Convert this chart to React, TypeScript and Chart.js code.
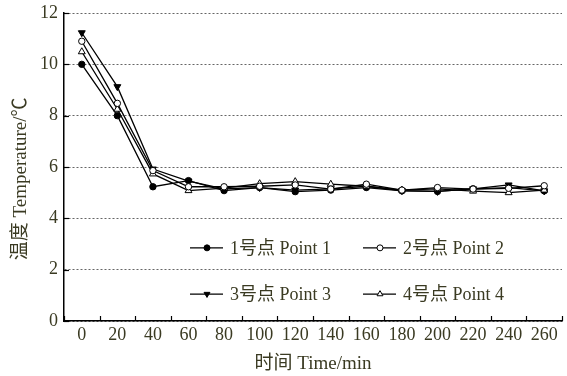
import React, { useEffect, useRef } from "react";
import { Chart, registerables } from "chart.js";

Chart.register(...registerables);

const categories = ["0", "20", "40", "60", "80", "100", "120", "140", "160", "180", "200", "220", "240", "260"];
const point1 = [10.0, 8.0, 5.23, 5.47, 5.08, 5.2, 5.04, 5.1, 5.2, 5.07, 5.05, 5.15, 5.2, 5.07];
const point2 = [10.9, 8.48, 5.86, 5.23, 5.23, 5.25, 5.3, 5.14, 5.33, 5.1, 5.2, 5.14, 5.17, 5.27];
const point3 = [11.23, 9.13, 5.92, 5.45, 5.15, 5.2, 5.1, 5.15, 5.25, 5.08, 5.05, 5.15, 5.3, 5.07];
const point4 = [10.49, 8.25, 5.73, 5.08, 5.18, 5.35, 5.43, 5.33, 5.25, 5.1, 5.15, 5.06, 5.0, 5.1];
const seriesNames = ["1号点 Point 1", "2号点 Point 2", "3号点 Point 3", "4号点 Point 4"];
const xTitle = "时间 Time/min";
const yTitle = "温度 Temperature/℃";

const FONT = "'Liberation Serif', 'Times New Roman', 'Noto Sans CJK SC', serif";
const TEXT = "#3a3a22";

function drawMarker(ctx: CanvasRenderingContext2D, kind: number, x: number, y: number, r: number) {
  ctx.save();
  ctx.lineWidth = 1;
  ctx.strokeStyle = "#000";
  ctx.beginPath();
  if (kind === 0 || kind === 1) {
    ctx.arc(x, y, r, 0, Math.PI * 2);
  } else if (kind === 2) {
    ctx.moveTo(x, y + r);
    ctx.lineTo(x - r * 0.866, y - r * 0.5);
    ctx.lineTo(x + r * 0.866, y - r * 0.5);
    ctx.closePath();
  } else {
    ctx.moveTo(x, y - r);
    ctx.lineTo(x - r * 0.866, y + r * 0.5);
    ctx.lineTo(x + r * 0.866, y + r * 0.5);
    ctx.closePath();
  }
  ctx.fillStyle = kind === 0 || kind === 2 ? "#000" : "#fff";
  ctx.fill();
  ctx.stroke();
  ctx.restore();
}

const extrasPlugin = {
  id: "extras",
  afterDraw(chart: any) {
    const ctx: CanvasRenderingContext2D = chart.ctx;
    const xs = chart.scales.x;
    const ys = chart.scales.y;
    const area = chart.chartArea;
    ctx.save();
    ctx.strokeStyle = "#000";
    ctx.lineWidth = 1.2;
    ys.ticks.forEach((t: any) => {
      const py = Math.round(ys.getPixelForValue(t.value)) + 0.5;
      ctx.beginPath();
      ctx.moveTo(area.left, py);
      ctx.lineTo(area.left + 5, py);
      ctx.stroke();
    });
    for (let i = 0; i <= categories.length; i++) {
      const px = Math.round(xs.getPixelForValue(i - 0.5)) + 0.5;
      ctx.beginPath();
      ctx.moveTo(px, area.bottom);
      ctx.lineTo(px, area.bottom - 5);
      ctx.stroke();
    }
    ctx.restore();

    const rows = [2.85, 1.05];
    const cols = [126, 299];
    ctx.save();
    ctx.font = "18px " + FONT;
    ctx.fillStyle = TEXT;
    ctx.textBaseline = "middle";
    ctx.textAlign = "left";
    for (let k = 0; k < 4; k++) {
      const y = ys.getPixelForValue(rows[Math.floor(k / 2)]);
      const x0 = area.left + cols[k % 2];
      ctx.strokeStyle = "#000";
      ctx.lineWidth = 1.3;
      ctx.beginPath();
      ctx.moveTo(x0, y);
      ctx.lineTo(x0 + 33, y);
      ctx.stroke();
      drawMarker(ctx, k, x0 + 17, y, k >= 2 ? 3.4 : 3);
      ctx.fillStyle = TEXT;
      ctx.fillText(seriesNames[k], x0 + 40, y + 1);
    }
    ctx.restore();
  },
};

export default function App() {
  const ref = useRef<HTMLCanvasElement | null>(null);
  useEffect(() => {
    if (!ref.current) return;
    const mk = (label: string, data: number[], style: string, rot: number, fill: string, r: number) => ({
      label,
      data,
      borderColor: "#000",
      borderWidth: 1.3,
      pointStyle: style,
      pointRotation: rot,
      pointRadius: r,
      pointBackgroundColor: fill,
      pointBorderColor: "#000",
      pointBorderWidth: 1,
      tension: 0,
      fill: false,
    });
    const chart = new Chart(ref.current, {
      type: "line",
      data: {
        labels: categories,
        datasets: [
          mk(seriesNames[1], point2, "circle", 0, "#fff", 3.2),
          mk(seriesNames[3], point4, "triangle", 0, "#fff", 4),
          mk(seriesNames[2], point3, "triangle", 180, "#000", 4),
          mk(seriesNames[0], point1, "circle", 0, "#000", 3.2),
        ] as any,
      },
      options: {
        responsive: false,
        animation: false,
        devicePixelRatio: 1,
        layout: { padding: { top: 13, right: 1, left: 0, bottom: 0 } },
        plugins: { legend: { display: false }, tooltip: { enabled: false } },
        scales: {
          x: {
            type: "category",
            offset: true,
            grid: { display: false, offset: true },
            border: { display: true, color: "#000", width: 1.5 },
            ticks: { color: TEXT, font: { family: FONT, size: 18 }, padding: -5, maxRotation: 0, autoSkip: false },
            title: { display: true, text: xTitle, color: TEXT, font: { family: FONT, size: 19 }, padding: { top: 0, bottom: 1 } },
            afterFit(scale: any) {
              scale.height = 55;
              scale.paddingLeft = 0;
              scale.paddingRight = 0;
            },
          },
          y: {
            min: 0,
            max: 12,
            ticks: { stepSize: 2, color: TEXT, font: { family: FONT, size: 18 }, padding: 6 },
            grid: { color: "#666", lineWidth: 1, drawTicks: false },
            border: { display: true, color: "#000", width: 1.5, dash: [2, 2] },
            title: { display: true, text: yTitle + "     ", color: TEXT, font: { family: FONT, size: 19 }, padding: { top: 10, bottom: 4 } },
            afterFit(scale: any) {
              scale.width = 64;
              scale.paddingTop = 0;
              scale.paddingBottom = 0;
            },
          },
        },
      },
      plugins: [extrasPlugin],
    } as any);
    return () => chart.destroy();
  }, []);
  return (
    <div style={{ position: "absolute", left: 0, top: 0, width: 567, height: 376, background: "#fff" }}>
      <canvas ref={ref} width={567} height={376} style={{ width: 567, height: 376 }} />
    </div>
  );
}
